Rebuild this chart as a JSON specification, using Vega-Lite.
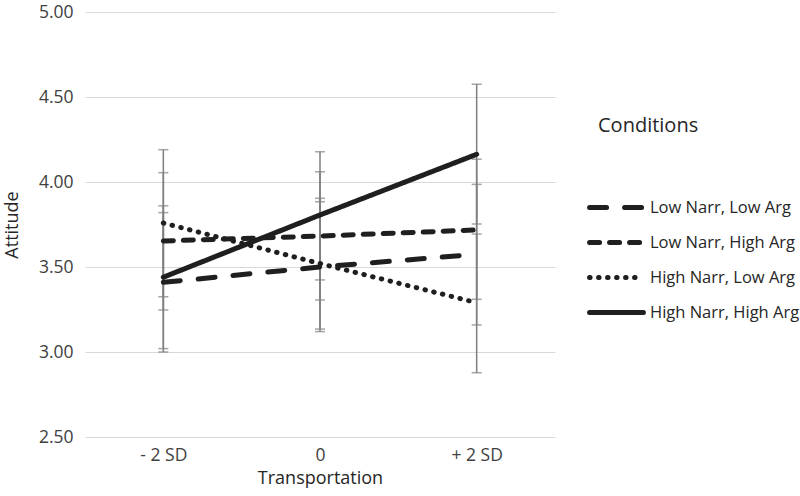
{
  "$schema": "https://vega.github.io/schema/vega-lite/v6.json",
  "width": 470,
  "height": 425,
  "autosize": {"type": "none"},
  "padding": {"left": 85, "top": 12, "right": 245, "bottom": 59},
  "background": "white",
  "config": {
    "font": "Open Sans",
    "view": {"stroke": null},
    "axis": {"labelFont": "Open Sans", "titleFont": "Open Sans", "labelColor": "#404040", "titleColor": "#262626", "labelFontSize": 17.5, "titleFontSize": 18, "titleFontWeight": "normal"},
    "legend": {"labelFont": "Open Sans", "titleFont": "Open Sans", "labelFontSize": 16.5, "titleFontSize": 20, "titleFontWeight": "normal", "labelColor": "#262626", "titleColor": "#262626"}
  },
  "data": {"values": [
    {"pos": "- 2 SD", "cond": "Low Narr, Low Arg", "mean": 3.41, "lo": 3.0, "hi": 3.82},
    {"pos": "- 2 SD", "cond": "Low Narr, High Arg", "mean": 3.653, "lo": 3.247, "hi": 4.055},
    {"pos": "- 2 SD", "cond": "High Narr, Low Arg", "mean": 3.759, "lo": 3.325, "hi": 4.19},
    {"pos": "- 2 SD", "cond": "High Narr, High Arg", "mean": 3.44, "lo": 3.02, "hi": 3.86},
    {"pos": "0", "cond": "Low Narr, Low Arg", "mean": 3.5, "lo": 3.12, "hi": 3.884},
    {"pos": "0", "cond": "Low Narr, High Arg", "mean": 3.682, "lo": 3.306, "hi": 4.06},
    {"pos": "0", "cond": "High Narr, Low Arg", "mean": 3.52, "lo": 3.135, "hi": 3.904},
    {"pos": "0", "cond": "High Narr, High Arg", "mean": 3.806, "lo": 3.424, "hi": 4.178},
    {"pos": "+ 2 SD", "cond": "Low Narr, Low Arg", "mean": 3.575, "lo": 3.159, "hi": 3.986},
    {"pos": "+ 2 SD", "cond": "Low Narr, High Arg", "mean": 3.718, "lo": 3.31, "hi": 4.134},
    {"pos": "+ 2 SD", "cond": "High Narr, Low Arg", "mean": 3.29, "lo": 2.878, "hi": 3.694},
    {"pos": "+ 2 SD", "cond": "High Narr, High Arg", "mean": 4.163, "lo": 3.753, "hi": 4.575}
  ]},
  "encoding": {
    "x": {"field": "pos", "type": "ordinal", "sort": ["- 2 SD", "0", "+ 2 SD"],
      "scale": {"type": "point", "padding": 0.5},
      "axis": {"title": "Transportation", "labelAngle": 0, "ticks": false, "domain": false, "grid": false, "labelPadding": 9, "titlePadding": 6}}
  },
  "layer": [
    {
      "mark": {"type": "rule", "color": "#7f7f7f", "strokeWidth": 1.5},
      "encoding": {
        "y": {"field": "lo", "type": "quantitative", "scale": {"domain": [2.5, 5], "nice": false, "zero": false},
          "axis": {"title": "Attitude", "values": [2.5, 3, 3.5, 4, 4.5, 5], "format": ".2f", "ticks": false, "domain": false, "gridColor": "#d9d9d9", "gridWidth": 1, "labelPadding": 12, "titlePadding": 17}},
        "y2": {"field": "hi"}
      }
    },
    {
      "mark": {"type": "tick", "color": "#7f7f7f", "size": 10, "thickness": 1.5},
      "encoding": {"y": {"field": "lo", "type": "quantitative"}}
    },
    {
      "mark": {"type": "tick", "color": "#7f7f7f", "size": 10, "thickness": 1.5},
      "encoding": {"y": {"field": "hi", "type": "quantitative"}}
    },
    {
      "mark": {"type": "line", "color": "#1f1f1f", "strokeWidth": 5, "strokeCap": "round"},
      "encoding": {
        "y": {"field": "mean", "type": "quantitative"},
        "detail": {"field": "cond"},
        "strokeDash": {"field": "cond", "type": "nominal",
          "scale": {"domain": ["Low Narr, Low Arg", "Low Narr, High Arg", "High Narr, Low Arg", "High Narr, High Arg"],
                    "range": [[17, 18], [10, 10], [0.5, 8.5], [1, 0]]},
          "legend": {"title": "Conditions", "orient": "none", "legendX": 502, "legendY": 104, "padding": 0,
            "symbolSize": 2900, "symbolStrokeWidth": 5, "symbolStrokeColor": "#1f1f1f", "titlePadding": 54, "rowPadding": 0, "clipHeight": 35, "labelOffset": 4,
            "encode": {
              "symbols": {"update": {"strokeCap": {"value": "round"}}},
              "title": {"update": {"dx": {"value": 11}}}
            }}}
      }
    }
  ]
}
